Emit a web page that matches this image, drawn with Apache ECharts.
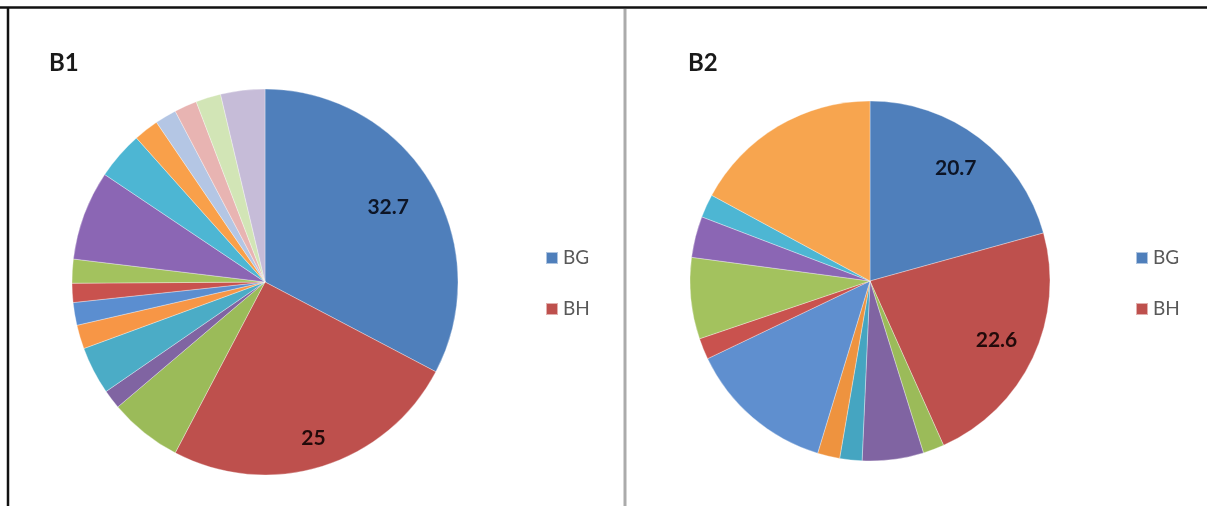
<!DOCTYPE html>
<html>
<head>
<meta charset="utf-8">
<script src="https://cdn.jsdelivr.net/npm/echarts@6/dist/echarts.min.js"></script>
<style>
  html, body { margin: 0; padding: 0; background: #fff; }
  #chart { width: 1207px; height: 506px; }
</style>
</head>
<body>
<div id="chart"></div>
<script>
// Category names and shares (%) for the two pies
const b1Categories = ['BG', 'BH', 'BI', 'BJ', 'BK', 'BL', 'BM', 'BN', 'BO', 'BP', 'BQ', 'BR', 'BS', 'BT', 'BU', 'BV'];
const b1Values = [32.7, 25, 6.1, 1.6, 4.0, 2.0, 1.9, 1.6, 2.0, 7.5, 4.0, 2.1, 1.8, 1.9, 2.1, 3.7];

const b2Categories = ['BG', 'BH', 'BI', 'BJ', 'BK', 'BL', 'BM', 'BN', 'BO', 'BP', 'BQ', 'BR'];
const b2Values = [20.7, 22.6, 1.9, 5.5, 2.0, 2.0, 13.2, 1.9, 7.3, 3.7, 2.1, 17.1];

const legendNames = ['BG', 'BH'];
const labelledNames = ['BG', 'BH'];

// Slice palettes
const b1Colors = ['#4F7FBB', '#BE504D', '#9BBB59', '#8064A2', '#4BACC6', '#F79646',
                  '#5B8ED0', '#C9524E', '#A3C25E', '#8B66B4', '#4DB6D3', '#F9A04A',
                  '#B4C6E4', '#E8B4B2', '#D2E5B6', '#C6BCD8'];
const b2Colors = ['#4F7FBB', '#BE504D', '#9BBB59', '#8064A2', '#45A5C1', '#EE933F',
                  '#5F8FCF', '#C9524E', '#A3C25E', '#8B66B4', '#4DB6D3', '#F7A54F'];

const FONT = 'Lato, "Open Sans", sans-serif';

function pieData(names, values, colors) {
  return names.map((n, i) => ({ name: n, value: values[i], itemStyle: { color: colors[i] } }));
}

function mainPie(center, r, names, values, colors) {
  return {
    type: 'pie',
    center: center,
    radius: [0, r],
    startAngle: 90,
    clockwise: true,
    avoidLabelOverlap: false,
    label: { show: false },
    labelLine: { show: false },
    emphasis: { disabled: true },
    itemStyle: { borderColor: 'rgba(255,255,255,0.55)', borderWidth: 0.6 },
    data: pieData(names, values, colors)
  };
}

// Transparent ring that only carries the value label of one slice,
// placed at fraction k of the pie radius
function labelPie(center, r, k, names, values, labelName, textColor) {
  return {
    type: 'pie',
    center: center,
    radius: [0, 2 * k * r],
    startAngle: 90,
    clockwise: true,
    silent: true,
    avoidLabelOverlap: false,
    z: 5,
    itemStyle: { color: 'rgba(0,0,0,0)' },
    labelLine: { show: false },
    emphasis: { disabled: true },
    data: names.map((n, i) => ({
      name: n,
      value: values[i],
      label: {
        show: n === labelName,
        position: 'inside',
        formatter: '{c}',
        color: textColor,
        fontFamily: FONT,
        fontWeight: 'bold',
        fontSize: 21
      }
    }))
  };
}

function legend(left) {
  return {
    data: legendNames,
    orient: 'vertical',
    left: left,
    top: 243,
    itemWidth: 12,
    itemHeight: 12,
    itemGap: 31,
    icon: 'rect',
    selectedMode: false,
    textStyle: { fontFamily: FONT, fontSize: 19, color: '#595959', lineHeight: 20 }
  };
}

const c1 = [265, 282], r1 = 193;
const c2 = [870, 281], r2 = 180;

const chart = echarts.init(document.getElementById('chart'), null, { renderer: 'canvas' });
chart.setOption({
  animation: false,
  backgroundColor: '#ffffff',
  title: [
    { text: 'B1', left: 44, top: 46, textStyle: { fontFamily: FONT, fontWeight: 'bold', fontSize: 24, color: '#1a1a1a' } },
    { text: 'B2', left: 683, top: 46, textStyle: { fontFamily: FONT, fontWeight: 'bold', fontSize: 24, color: '#1a1a1a' } }
  ],
  legend: [legend(540), legend(1130)],
  graphic: [
    { type: 'line', shape: { x1: 0, y1: 7.5, x2: 1207, y2: 7.5 }, style: { stroke: '#111', lineWidth: 2.5 } },
    { type: 'line', shape: { x1: 8, y1: 7, x2: 8, y2: 506 }, style: { stroke: '#111', lineWidth: 2.5 } },
    { type: 'line', shape: { x1: 625, y1: 9, x2: 625, y2: 506 }, style: { stroke: '#ababab', lineWidth: 3 } }
  ],
  series: [
    mainPie(c1, r1, b1Categories, b1Values, b1Colors),
    mainPie(c2, r2, b2Categories, b2Values, b2Colors),
    labelPie(c1, r1, 0.73, b1Categories, b1Values, labelledNames[0], '#0d1526'),
    labelPie(c1, r1, 0.83, b1Categories, b1Values, labelledNames[1], '#220a0a'),
    labelPie(c2, r2, 0.77, b2Categories, b2Values, labelledNames[0], '#0d1526'),
    labelPie(c2, r2, 0.76, b2Categories, b2Values, labelledNames[1], '#220a0a')
  ]
});
</script>
</body>
</html>
